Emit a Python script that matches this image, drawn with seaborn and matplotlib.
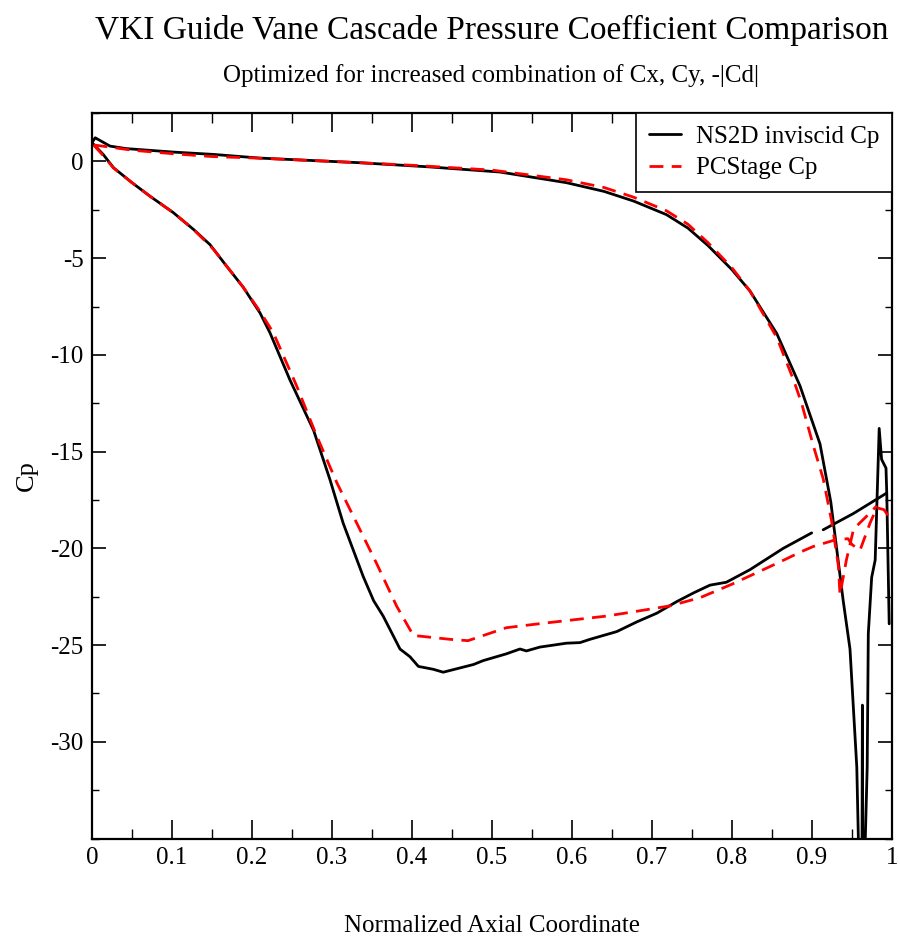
import numpy as np
import pandas as pd
import matplotlib
matplotlib.use("Agg")
import matplotlib.pyplot as plt
from matplotlib.ticker import MultipleLocator
from matplotlib.lines import Line2D
import seaborn as sns

# ---------------- data ----------------
ns_upper_x = [0.0, 0.004, 0.0225, 0.043, 0.102, 0.152, 0.21, 0.335, 0.42, 0.51,
              0.593, 0.64, 0.677, 0.718, 0.745, 0.77, 0.80, 0.8225, 0.856, 0.885, 0.91,
              0.9235, 0.939, 0.9475, 0.956, 0.9585, 0.9625, 0.963, 0.9635, 0.966,
              0.969, 0.9704, 0.9746, 0.979, 0.984, 0.987, 0.9925, 0.9935, 0.9965]
ns_upper_cp = [0.97, 1.22, 0.79, 0.66, 0.48, 0.36, 0.17, -0.07, -0.28, -0.55,
               -1.1, -1.55, -2.05, -2.75, -3.45, -4.35, -5.6, -6.7, -8.9, -11.6, -14.6,
               -17.6, -22.7, -25.2, -31.3, -36.0, -36.0, -28.1, -36.0, -36.0,
               -31.3, -24.4, -21.5, -20.6, -13.8, -15.4, -15.85, -17.2, -23.9]

ns_lower_a_x = [0.0, 0.014, 0.027, 0.05, 0.0725, 0.1017, 0.127, 0.1475, 0.168, 0.189,
                0.21, 0.2225, 0.2475, 0.277, 0.2975, 0.314, 0.339, 0.352, 0.364, 0.385,
                0.3975, 0.408, 0.4267, 0.439, 0.477, 0.489, 0.518, 0.535, 0.543, 0.56,
                0.5767, 0.593, 0.61, 0.6225, 0.656, 0.681, 0.706, 0.731, 0.752, 0.7725,
                0.793, 0.8225, 0.864, 0.8996]
ns_lower_a_cp = [0.97, 0.36, -0.33, -1.1, -1.8, -2.65, -3.52, -4.3, -5.4, -6.5,
                 -7.83, -8.86, -11.3, -13.9, -16.45, -18.7, -21.45, -22.7, -23.5, -25.2,
                 -25.6, -26.1, -26.25, -26.4, -26.0, -25.8, -25.45, -25.2, -25.3, -25.1,
                 -25.0, -24.9, -24.87, -24.7, -24.3, -23.8, -23.35, -22.75, -22.3, -21.9,
                 -21.75, -21.1, -20.0, -19.2]
ns_lower_b_x = [0.914, 0.9517, 0.993]
ns_lower_b_cp = [-19.04, -18.2, -17.15]

pc_upper_x = [0.002, 0.02, 0.05, 0.1, 0.15, 0.2, 0.3, 0.4, 0.5, 0.593, 0.64, 0.677,
              0.718, 0.745, 0.77, 0.80, 0.8225, 0.856, 0.877, 0.887, 0.9017, 0.914, 0.9246,
              0.933, 0.935, 0.943, 0.952, 0.968, 0.981]
pc_upper_cp = [0.85, 0.75, 0.58, 0.4, 0.25, 0.18, 0.0, -0.2, -0.45, -0.95, -1.35, -1.85,
               -2.55, -3.25, -4.2, -5.5, -6.7, -9.1, -11.3, -12.5, -14.7, -16.4, -18.6,
               -20.9, -22.4, -20.6, -19.0, -18.35, -17.8]

pc_lower_x = [0.002, 0.014, 0.027, 0.05, 0.0725, 0.1017, 0.127, 0.152, 0.189, 0.21,
              0.2267, 0.2558, 0.281, 0.306, 0.331, 0.356, 0.381, 0.4017, 0.4475, 0.47,
              0.518, 0.564, 0.643, 0.681, 0.7225, 0.76, 0.80, 0.86, 0.885, 0.9017,
              0.93, 0.945, 0.95, 0.96, 0.9725, 0.981, 0.99, 1.0]
pc_lower_cp = [0.85, 0.3, -0.35, -1.1, -1.8, -2.65, -3.52, -4.55, -6.5, -7.75,
               -8.86, -11.6, -14.2, -16.6, -18.7, -20.8, -23.0, -24.5, -24.7, -24.77,
               -24.1, -23.87, -23.5, -23.25, -22.97, -22.55, -21.85, -20.7, -20.2, -19.9,
               -19.55, -19.5, -19.8, -20.1, -18.7, -17.9, -18.0, -18.6]

series_names = ["NS2D inviscid Cp", "PCStage Cp"]
x_ticks = [0, 0.1, 0.2, 0.3, 0.4, 0.5, 0.6, 0.7, 0.8, 0.9, 1]
x_tick_labels = ["0", "0.1", "0.2", "0.3", "0.4", "0.5", "0.6", "0.7", "0.8", "0.9", "1"]
y_ticks = [0, -5, -10, -15, -20, -25, -30]

# ---------------- build table ----------------
frames = []
segs = [
    (series_names[0], "ns_up", ns_upper_x, ns_upper_cp),
    (series_names[0], "ns_lo_a", ns_lower_a_x, ns_lower_a_cp),
    (series_names[0], "ns_lo_b", ns_lower_b_x, ns_lower_b_cp),
    (series_names[1], "pc_up", pc_upper_x, pc_upper_cp),
    (series_names[1], "pc_lo", pc_lower_x, pc_lower_cp),
]
for name, seg, xs, ys in segs:
    frames.append(pd.DataFrame({"x": xs, "cp": ys, "series": name, "seg": seg}))
df = pd.concat(frames, ignore_index=True)

# ---------------- plot ----------------
sns.set_theme(style="ticks")
plt.rcParams["font.family"] = ["Liberation Serif", "DejaVu Serif"]
plt.rcParams["xtick.direction"] = "in"
plt.rcParams["ytick.direction"] = "in"
plt.rcParams["text.color"] = "black"
plt.rcParams["axes.labelcolor"] = "black"
plt.rcParams["xtick.color"] = "black"
plt.rcParams["ytick.color"] = "black"

fig = plt.figure(figsize=(9.0, 9.41), dpi=100)
ax = fig.add_axes([0.1022, 0.1088, 0.8889, 0.7711])

sns.lineplot(data=df, x="x", y="cp", hue="series", style="series", units="seg",
             estimator=None, sort=False, ax=ax,
             palette={series_names[0]: "black", series_names[1]: "#ff0000"},
             dashes={series_names[0]: "", series_names[1]: (5, 3)},
             linewidth=2.0, legend=False)

ax.set_xlim(0, 1)
ax.set_ylim(-35, 2.5)
ax.xaxis.set_minor_locator(MultipleLocator(0.05))
ax.yaxis.set_minor_locator(MultipleLocator(2.5))
ax.set_xticks(x_ticks)
ax.set_xticklabels(x_tick_labels)
ax.set_yticks(y_ticks)
ax.set_yticklabels([str(v) for v in y_ticks])

ax.tick_params(axis="x", which="major", length=14, width=1.2, top=True, bottom=True,
               labelsize=18, pad=6)
ax.tick_params(axis="x", which="minor", length=7, width=1.0, top=True, bottom=True)
ax.tick_params(axis="y", which="major", length=10, width=1.2, left=True, right=True,
               labelsize=18, pad=6)
ax.tick_params(axis="y", which="minor", length=5, width=1.0, left=True, right=True)
for sp in ax.spines.values():
    sp.set_visible(True)
    sp.set_linewidth(1.6)
    sp.set_color("black")

ax.set_xlabel("Normalized Axial Coordinate", fontsize=18, labelpad=33)
ax.set_ylabel("Cp", fontsize=19, labelpad=9)

handles = [Line2D([], [], color="black", lw=2.0),
           Line2D([], [], color="#ff0000", lw=2.0, dashes=(5, 3))]
leg = ax.legend(handles, series_names, loc="upper right", borderaxespad=0.0,
                fontsize=18, frameon=True, fancybox=False, handlelength=1.3,
                borderpad=0.5, labelspacing=0.35, handletextpad=0.6)
leg.get_frame().set_edgecolor("black")
leg.get_frame().set_linewidth(1.2)
leg.get_frame().set_alpha(1.0)

fig.text(0.546, 0.968, "VKI Guide Vane Cascade Pressure Coefficient Comparison",
         ha="center", va="center", fontsize=24)
fig.text(0.546, 0.92, "Optimized for increased combination of Cx, Cy, -|Cd|",
         ha="center", va="center", fontsize=18)

fig.savefig("out.png", dpi=100, facecolor="white")
